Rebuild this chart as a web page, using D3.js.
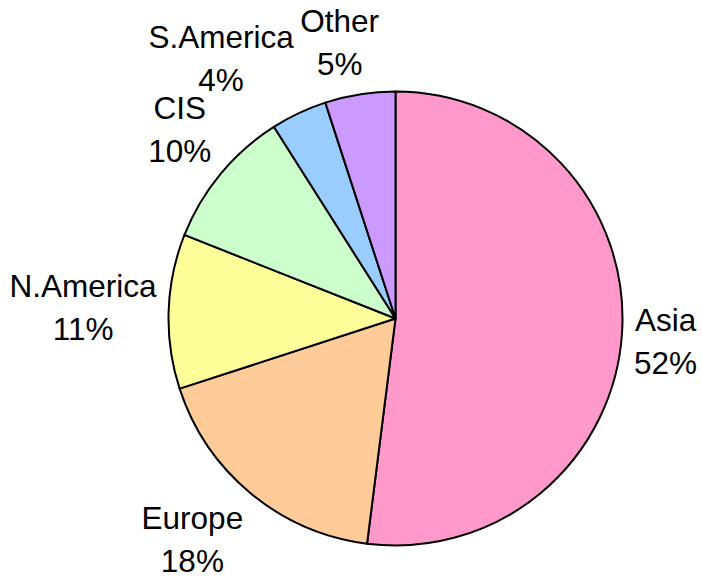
<!DOCTYPE html>
<html>
<head>
<meta charset="utf-8">
<script src="https://cdn.jsdelivr.net/npm/d3@7"></script>
<style>
  html, body { margin: 0; padding: 0; background: #fff; }
  svg { display: block; }
  text { font-family: "Liberation Sans", Arial, sans-serif; fill: #000; }
</style>
</head>
<body>
<svg id="chart" width="702" height="579"></svg>
<script>
// Share of total by region (percent)
const regions = ["Asia", "Europe", "N.America", "CIS", "S.America", "Other"];
const shares  = [52, 18, 11, 10, 4, 5];
const colors  = ["#FF99CC", "#FFCC99", "#FFFF99", "#CCFFCC", "#99CCFF", "#CC99FF"];

const W = 702, H = 579;
const cx = 395.5, cy = 318.5, R = 227;
const fontSize = 31.5, lineGap = 43, labelGap = 12;

const svg = d3.select("#chart");
const g = svg.append("g").attr("transform", `translate(${cx},${cy})`);

const data = regions.map((name, i) => ({ name, value: shares[i], color: colors[i] }));

const pie = d3.pie().value(d => d.value).sort(null);
const arcs = pie(data);
const arc = d3.arc().innerRadius(0).outerRadius(R);

g.selectAll("path.slice")
  .data(arcs)
  .join("path")
  .attr("class", "slice")
  .attr("d", arc)
  .attr("fill", d => d.data.color)
  .attr("stroke", "#000")
  .attr("stroke-width", 2)
  .attr("stroke-linejoin", "round");

// Two-line labels: name, then percentage
const labels = g.selectAll("text.lbl")
  .data(arcs)
  .join("text")
  .attr("class", "lbl")
  .attr("text-anchor", "middle")
  .style("font-size", fontSize + "px");

labels.append("tspan").attr("class", "l1").text(d => d.data.name);
labels.append("tspan").attr("class", "l2").text(d => d3.format("d")(d.data.value) + "%");

const clamp = v => Math.max(-1, Math.min(1, v));
const capMid = fontSize * 0.36;
const minSep = lineGap + fontSize * 0.72 + 5;   // vertical spacing between stacked labels

const boxes = [];
labels.each(function(d) {
  const t = d3.select(this);
  const w = Math.max(
    t.select(".l1").node().getComputedTextLength(),
    t.select(".l2").node().getComputedTextLength()
  );
  const h = lineGap + fontSize * 1.2;
  const a = (d.startAngle + d.endAngle) / 2;
  const s = Math.sin(a), c = Math.cos(a);
  const ar = R + labelGap;
  // label block sits just outside the rim, pushed away along the mid-angle
  const x = ar * s + (w / 2) * clamp(s * 3);
  const y = -ar * c + (h / 2) * clamp(-c * 3);
  boxes.push({ node: this, x, y, w });
});

// spread labels that overlap horizontally and sit too close vertically
for (let iter = 0; iter < 6; iter++) {
  for (let i = 0; i < boxes.length; i++) {
    for (let j = i + 1; j < boxes.length; j++) {
      const A = boxes[i], B = boxes[j];
      const ox = (A.w + B.w) / 2 - Math.abs(A.x - B.x);
      const dy = Math.abs(A.y - B.y);
      if (ox > 0 && dy < minSep) {
        const push = (minSep - dy) / 2;
        const [top, bot] = A.y < B.y ? [A, B] : [B, A];
        top.y -= push;
        bot.y += push;
      }
    }
  }
}

// keep every label inside the drawing area
const bottomLimit = H - cy - fontSize * 0.22;
boxes.forEach(b => {
  const base2 = b.y + lineGap / 2 + capMid;
  if (base2 > bottomLimit) b.y -= base2 - bottomLimit;
  const t = d3.select(b.node);
  t.select(".l1").attr("x", b.x).attr("y", b.y - lineGap / 2 + capMid);
  t.select(".l2").attr("x", b.x).attr("y", b.y + lineGap / 2 + capMid);
});
</script>
</body>
</html>
